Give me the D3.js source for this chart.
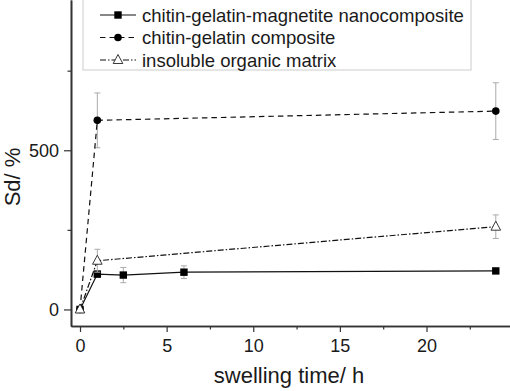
<!DOCTYPE html>
<html>
<head>
<meta charset="utf-8">
<script src="https://cdn.jsdelivr.net/npm/d3@7"></script>
<style>
  body { margin: 0; background: #fff; }
  text { font-family: "Liberation Sans", Arial, sans-serif; fill: #1a1a1a; }
</style>
</head>
<body>
<svg id="chart" width="510" height="391"></svg>
<script>
// data
var seriesNames = ["chitin-gelatin-magnetite nanocomposite", "chitin-gelatin composite", "insoluble organic matrix"];
var timeA = [0, 1, 2.5, 6, 24];
var sdA = [0, 111, 108, 117, 121];
var errA = [0, 10, 24, 20, 4];
var timeB = [0, 1, 24];
var sdB = [0, 594, 623];
var errB = [0, 86, 89];
var timeC = [0, 1, 24];
var sdC = [0, 153, 260];
var errC = [0, 36, 37];
var xMajor = [0, 5, 10, 15, 20];
var xMinor = [2.5, 7.5, 12.5, 17.5, 22.5];
var yMajor = [0, 500];
var yMinor = [250, 750];

var svg = d3.select("#chart");

var x = d3.scaleLinear().domain([-0.52, 24.82]).range([71, 510]);
var y = d3.scaleLinear().domain([-52, 972]).range([326, 0]);

function pts(t, v, e) {
  return t.map(function (d, i) { return { t: d, v: v[i], e: e[i] }; });
}
var series = [
  { name: seriesNames[0], data: pts(timeA, sdA, errA), dash: null, marker: "square" },
  { name: seriesNames[1], data: pts(timeB, sdB, errB), dash: "5.5,4", marker: "circle" },
  { name: seriesNames[2], data: pts(timeC, sdC, errC), dash: "6,2,1.5,2", marker: "triangle" }
];

// axes
svg.append("g").attr("transform", "translate(0,326)")
  .call(d3.axisBottom(x).tickValues(xMajor).tickSize(6).tickSizeOuter(0).tickPadding(7));
svg.append("g").attr("transform", "translate(0,326)")
  .call(d3.axisBottom(x).tickValues(xMinor).tickSize(3.5).tickSizeOuter(0).tickFormat(""));
svg.append("g").attr("transform", "translate(71,0)")
  .call(d3.axisLeft(y).tickValues(yMajor).tickSize(7).tickSizeOuter(0).tickPadding(5));
svg.append("g").attr("transform", "translate(71,0)")
  .call(d3.axisLeft(y).tickValues(yMinor).tickSize(3.5).tickSizeOuter(0).tickFormat(""));

svg.selectAll(".domain").attr("stroke", "#333").attr("stroke-width", 1.6);
svg.selectAll(".tick line").attr("stroke", "#333").attr("stroke-width", 1.2);
svg.selectAll(".tick text").attr("font-size", 18).attr("fill", "#1a1a1a")
  .attr("font-family", "Liberation Sans, Arial, sans-serif");

svg.append("text")
  .attr("x", 289).attr("y", 383)
  .attr("text-anchor", "middle")
  .attr("font-size", 22)
  .text("swelling time/ h");

svg.append("text")
  .attr("transform", "translate(20,177) rotate(-90)")
  .attr("text-anchor", "middle")
  .attr("font-size", 22)
  .text("Sd/ %");

var line = d3.line().x(function (d) { return x(d.t); }).y(function (d) { return y(d.v); });

function drawMarker(g, type, cx, cy) {
  if (type == "square") {
    g.append("rect").attr("x", cx - 3.7).attr("y", cy - 3.7).attr("width", 7.4).attr("height", 7.4)
      .attr("fill", "#000");
  } else if (type == "circle") {
    g.append("circle").attr("cx", cx).attr("cy", cy).attr("r", 3.8).attr("fill", "#000");
  } else {
    g.append("path")
      .attr("d", "M" + cx + "," + (cy - 5.5) + "L" + (cx + 4.8) + "," + (cy + 3.5) + "L" + (cx - 4.8) + "," + (cy + 3.5) + "Z")
      .attr("fill", "#fff").attr("stroke", "#222").attr("stroke-width", 0.9);
  }
}

series.forEach(function (s) {
  var g = svg.append("g");
  // error bars
  s.data.forEach(function (d) {
    if (d.e <= 0) return;
    var cx = x(d.t), y1 = y(d.v + d.e), y2 = y(d.v - d.e);
    g.append("line").attr("x1", cx).attr("x2", cx).attr("y1", y1).attr("y2", y2)
      .attr("stroke", "#aaa").attr("stroke-width", 1);
    [y1, y2].forEach(function (yy) {
      g.append("line").attr("x1", cx - 3).attr("x2", cx + 3).attr("y1", yy).attr("y2", yy)
        .attr("stroke", "#aaa").attr("stroke-width", 1);
    });
  });
  g.append("path").datum(s.data)
    .attr("d", line)
    .attr("fill", "none")
    .attr("stroke", "#111")
    .attr("stroke-width", 1.2)
    .attr("stroke-dasharray", s.dash);
  s.data.forEach(function (d) { drawMarker(g, s.marker, x(d.t), y(d.v)); });
});

// legend
var lg = svg.append("g");
lg.append("rect").attr("x", 83).attr("y", -2).attr("width", 388).attr("height", 72)
  .attr("fill", "#fff").attr("stroke", "#ccc").attr("stroke-width", 1);
series.forEach(function (s, i) {
  var cy = 15 + i * 22.5;
  lg.append("line").attr("x1", 100).attr("x2", 136).attr("y1", cy).attr("y2", cy)
    .attr("stroke", "#111").attr("stroke-width", 1.2)
    .attr("stroke-dasharray", s.dash);
  drawMarker(lg, s.marker, 118, cy);
  lg.append("text").attr("x", 142).attr("y", cy + 6.5)
    .attr("font-size", 18.5)
    .text(s.name);
});
</script>
</body>
</html>
